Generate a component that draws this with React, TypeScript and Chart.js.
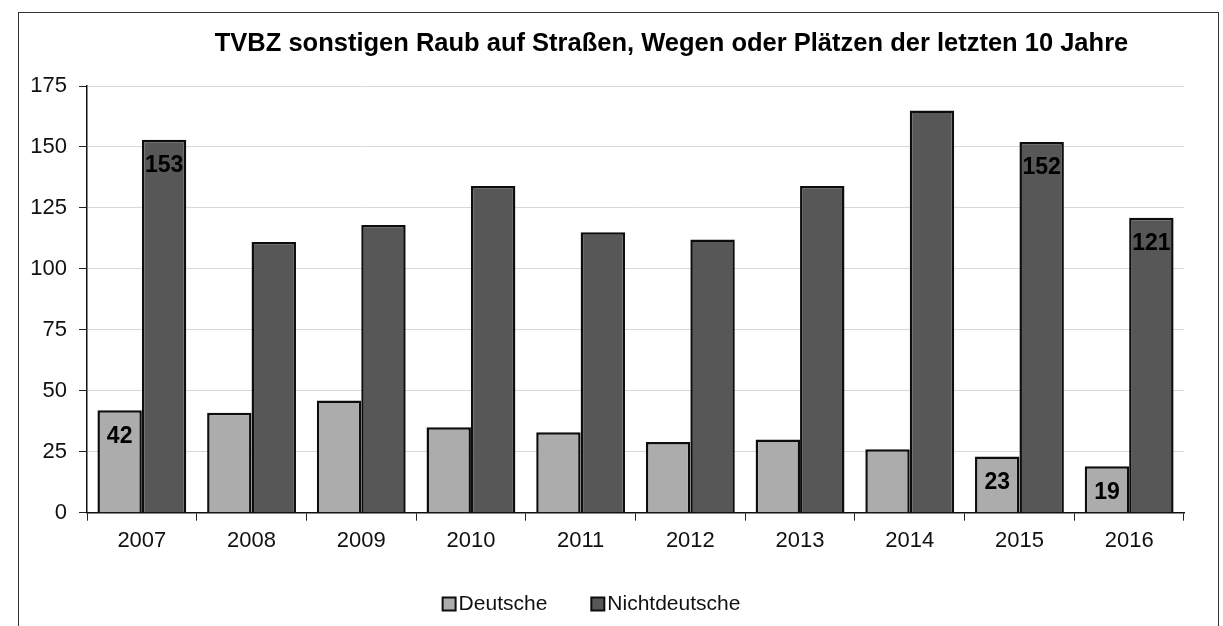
import { useEffect, useRef } from "react";
import { Chart, registerables } from "chart.js";

Chart.register(...registerables);

const titleText = "TVBZ sonstigen Raub auf Straßen, Wegen oder Plätzen der letzten 10 Jahre";
const years = ["2007", "2008", "2009", "2010", "2011", "2012", "2013", "2014", "2015", "2016"];
const seriesNames = ["Deutsche", "Nichtdeutsche"];
const deutsche = [42, 41, 46, 35, 33, 29, 30, 26, 23, 19];
const nichtdeutsche = [153, 111, 118, 134, 115, 112, 134, 165, 152, 121];
const labelledYears = ["2007", "2015", "2016"];
const yMin = 0;
const yMax = 175;
const yStep = 25;

const FONT = "'Liberation Sans', Arial, sans-serif";
const LIGHT = "#acacac";
const DARK = "#575757";
const EDGE = "#0d0d0d";

// Title, legend and value labels are drawn straight onto the canvas.
const decorations = {
  id: "decorations",
  afterDatasetsDraw(chart: Chart) {
    const { ctx, chartArea } = chart;
    ctx.save();

    // value labels inside the chosen bars
    ctx.fillStyle = "#000";
    ctx.font = `bold 23px ${FONT}`;
    ctx.textAlign = "center";
    ctx.textBaseline = "middle";
    chart.data.datasets.forEach((ds, di) => {
      const meta = chart.getDatasetMeta(di);
      meta.data.forEach((bar: any, i: number) => {
        if (!labelledYears.includes(years[i])) return;
        ctx.fillText(String(ds.data[i]), bar.x, bar.y + 26);
      });
    });

    // title
    const mid = (chartArea.left + chartArea.right) / 2;
    ctx.font = `bold 25.5px ${FONT}`;
    ctx.fillText(titleText, mid + 36, 44);

    // legend
    ctx.font = `21px ${FONT}`;
    ctx.textAlign = "left";
    const box = 13;
    const gap = 3;
    const spacing = 44;
    const widths = chart.data.datasets.map(
      (ds) => box + gap + ctx.measureText(String(ds.label)).width
    );
    const total = widths.reduce((a, b) => a + b, 0) + spacing * (widths.length - 1);
    let x = mid - 44 - total / 2;
    const ly = 604;
    chart.data.datasets.forEach((ds, di) => {
      ctx.fillStyle = String(ds.backgroundColor);
      ctx.fillRect(x, ly - box / 2, box, box);
      ctx.strokeStyle = EDGE;
      ctx.lineWidth = 2;
      ctx.strokeRect(x, ly - box / 2, box, box);
      ctx.fillStyle = "#111";
      ctx.fillText(String(ds.label), x + box + gap, ly);
      x += widths[di] + spacing;
    });

    ctx.restore();
  },
};

export default function App() {
  const canvasRef = useRef<HTMLCanvasElement | null>(null);

  useEffect(() => {
    if (!canvasRef.current) return;
    const chart = new Chart(canvasRef.current, {
      type: "bar",
      data: {
        labels: years,
        datasets: [
          {
            label: seriesNames[0],
            data: deutsche,
            backgroundColor: LIGHT,
            borderColor: EDGE,
            borderWidth: 2.5,
            categoryPercentage: 0.81,
            barPercentage: 1,
          },
          {
            label: seriesNames[1],
            data: nichtdeutsche,
            backgroundColor: DARK,
            borderColor: EDGE,
            borderWidth: 2.5,
            categoryPercentage: 0.81,
            barPercentage: 1,
          },
        ],
      },
      options: {
        animation: false,
        responsive: false,
        devicePixelRatio: 1,
        layout: { padding: { top: 86, right: 39, left: 0, bottom: 0 } },
        plugins: {
          legend: { display: false },
          title: { display: false },
          tooltip: { enabled: false },
        },
        scales: {
          x: {
            grid: {
              drawOnChartArea: false,
              tickLength: 8,
              tickColor: "#222",
              offset: true,
            },
            border: { color: "#111", width: 1.5 },
            ticks: { font: { size: 22, family: FONT }, color: "#111", padding: 7 },
            afterFit: (s: any) => {
              s.height = 113.3;
            },
          },
          y: {
            min: yMin,
            max: yMax,
            ticks: {
              stepSize: yStep,
              font: { size: 22, family: FONT },
              color: "#111",
              padding: 12,
            },
            grid: { color: "#d8d8d8", tickColor: "#222", tickLength: 8 },
            border: { color: "#111", width: 1.5 },
            afterFit: (s: any) => {
              s.width = 87;
            },
          },
        },
      },
      plugins: [decorations],
    });
    return () => chart.destroy();
  }, []);

  return (
    <div style={{ position: "fixed", left: 0, top: 0, width: 1223, height: 626, background: "#fff" }}>
      <div
        style={{
          position: "absolute",
          left: 18,
          top: 12,
          width: 1201,
          height: 640,
          border: "1px solid #333",
          boxSizing: "border-box",
        }}
      />
      <canvas
        ref={canvasRef}
        width={1223}
        height={626}
        style={{ position: "absolute", left: 0, top: 0 }}
      />
    </div>
  );
}
